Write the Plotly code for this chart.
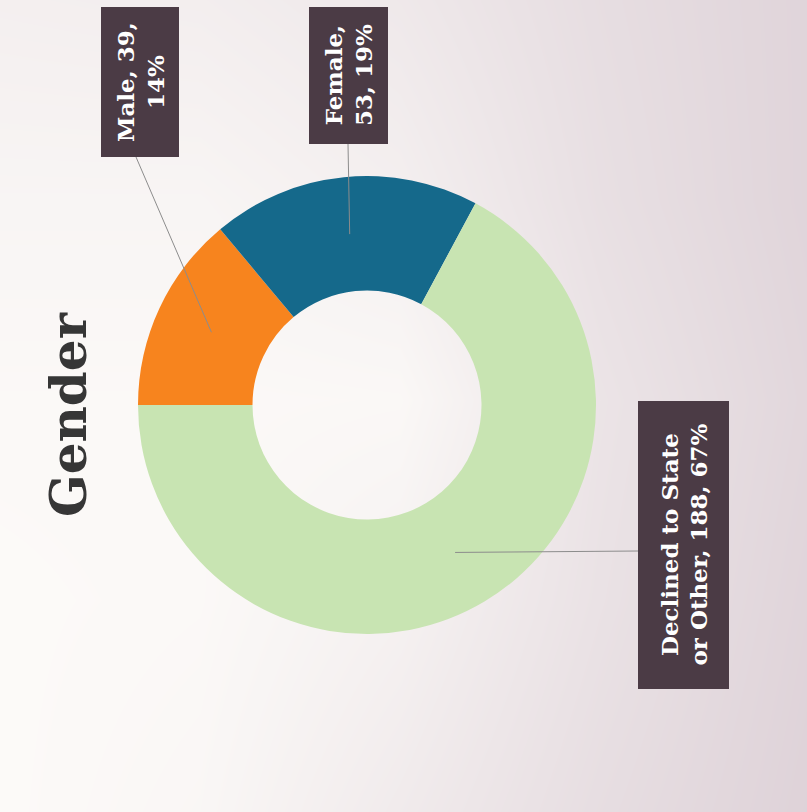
import math
import plotly.graph_objects as go

# Donut data
categories = ["Male", "Female", "Declined to State or Other"]
counts = [39, 53, 188]
percents = [14, 19, 67]
label_lines = [
    ["Male, 39,", "14%"],
    ["Female,", "53, 19%"],
    ["Declined to State", "or Other, 188, 67%"],
]
slice_colors = ["#f7841e", "#15698b", "#c8e4b2"]

# Soft photographic background tone (0 = near white, 1 = grey-pink)
bg_x = [0, 200, 400, 600, 807]
bg_y = [0, 200, 400, 600, 812]
bg_tone = [
    [0.25, 0.28, 0.40, 0.65, 0.85],
    [0.12, 0.12, 0.25, 0.60, 0.85],
    [0.03, 0.03, 0.05, 0.50, 0.80],
    [0.00, 0.03, 0.20, 0.55, 0.85],
    [0.00, 0.08, 0.35, 0.65, 0.90],
]

W, H = 807, 812
CX, CY, R = 367, 405, 229          # donut centre / outer radius in pixels
HOLE = 0.5
START_DEG = 180                     # first slice starts at 9 o'clock, clockwise

# Label boxes (x0, y0, x1, y1) in pixels and where each leader line meets its box
boxes = [(101, 7, 179, 157), (309, 7, 388, 144), (638, 401, 729, 689)]
attach = [(136, 157), (348, 144), (638, 551)]

BOX_COLOR = "#4b3b45"
LABEL_FONT = "DejaVu Serif"

fig = go.Figure()

fig.add_trace(go.Heatmap(
    x=bg_x, y=bg_y, z=bg_tone, zsmooth="best", showscale=False,
    colorscale=[[0, "#fcfaf8"], [1, "#dbced5"]], zmin=0, zmax=1,
    hoverinfo="skip",
))

fig.add_trace(go.Pie(
    labels=categories, values=counts, hole=HOLE, sort=False,
    direction="clockwise", rotation=270,
    marker=dict(colors=slice_colors, line=dict(width=0)),
    textinfo="none", hoverinfo="skip", showlegend=False,
    domain=dict(x=[(CX - R) / W, (CX + R) / W],
                y=[(H - CY - R) / H, (H - CY + R) / H]),
))

shapes = []
annotations = []
total = sum(counts)
cum = 0
for i, v in enumerate(counts):
    mid = (cum + v / 2) / total
    cum += v
    ang = math.radians(START_DEG - 360 * mid)
    rr = R * (1 + HOLE) / 2
    px = CX + rr * math.cos(ang)
    py = CY - rr * math.sin(ang)
    ax, ay = attach[i]
    shapes.append(dict(type="line", xref="x", yref="y", x0=px, y0=py, x1=ax, y1=ay,
                       line=dict(color="#8c8c8c", width=1)))
    x0, y0, x1, y1 = boxes[i]
    shapes.append(dict(type="rect", xref="x", yref="y", x0=x0, y0=y0, x1=x1, y1=y1,
                       fillcolor=BOX_COLOR, line=dict(width=0)))
    annotations.append(dict(
        x=(x0 + x1) / 2, y=(y0 + y1) / 2, xref="x", yref="y",
        text="<b>" + "<br>".join(label_lines[i]) + "</b>",
        textangle=-90, showarrow=False, align="center",
        font=dict(family=LABEL_FONT, size=23, color="#ffffff"),
    ))

# Thin white edge along the bottom of the card
shapes.append(dict(type="rect", xref="x", yref="y", x0=0, y0=803, x1=W, y1=H,
                   fillcolor="#ffffff", line=dict(width=0), layer="below"))

annotations.append(dict(
    x=68, y=415, xref="x", yref="y", text="<b>Gender</b>", textangle=-90,
    showarrow=False, font=dict(family="DejaVu Serif", size=50, color="#363636"),
))

fig.update_layout(
    width=W, height=H, margin=dict(l=0, r=0, t=0, b=0),
    paper_bgcolor="#f4eff0", plot_bgcolor="#f4eff0",
    xaxis=dict(range=[0, W], visible=False, fixedrange=True),
    yaxis=dict(range=[H, 0], visible=False, fixedrange=True),
    shapes=shapes, annotations=annotations, showlegend=False,
)

fig.write_html("out.html")
